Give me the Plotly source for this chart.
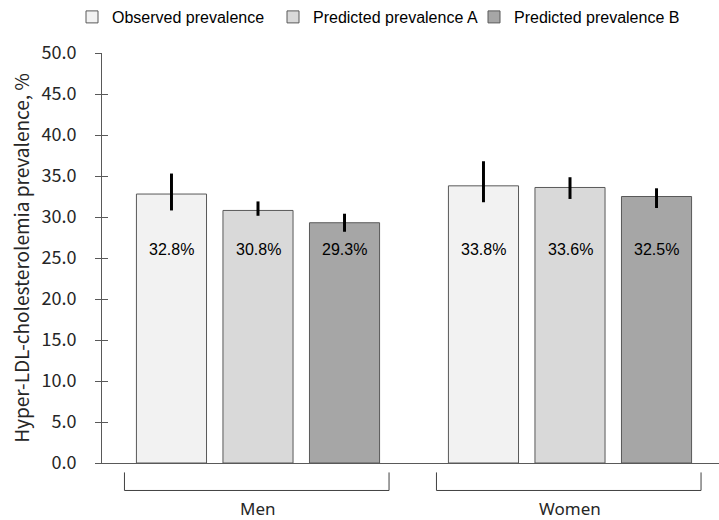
import plotly.graph_objects as go

groups = ["Men", "Women"]
series_names = ["Observed prevalence", "Predicted prevalence A", "Predicted prevalence B"]
observed = [32.8, 33.8]
observed_upper = [35.3, 36.8]
observed_lower = [30.8, 31.8]
pred_a = [30.8, 33.6]
pred_a_upper = [31.9, 34.85]
pred_a_lower = [30.15, 32.2]
pred_b = [29.3, 32.5]
pred_b_upper = [30.4, 33.5]
pred_b_lower = [28.2, 31.1]
y_ticks = [0, 5, 10, 15, 20, 25, 30, 35, 40, 45, 50]

values = [observed, pred_a, pred_b]
uppers = [observed_upper, pred_a_upper, pred_b_upper]
lowers = [observed_lower, pred_a_lower, pred_b_lower]
fills = ["#f2f2f2", "#d9d9d9", "#a6a6a6"]
legend_ids = ["legend", "legend2", "legend3"]
legend_x = [72, 273, 474]  # container px of each legend entry

AXIS_FONT = "Noto Sans CJK KR, Noto Sans, sans-serif"
ARIAL = "Liberation Sans, Arial, sans-serif"
BARGAP = 0.168
BARGROUPGAP = 0.19
W, H = 719, 520

fig = go.Figure()
for name, vals, up, lo, col, lg in zip(series_names, values, uppers, lowers, fills, legend_ids):
    fig.add_trace(go.Bar(
        x=groups, y=vals, name=name, legend=lg,
        marker=dict(color=col, line=dict(color="#595959", width=1)),
        error_y=dict(type="data", symmetric=False,
                     array=[u - v for u, v in zip(up, vals)],
                     arrayminus=[v - l for v, l in zip(vals, lo)],
                     color="#000000", thickness=3, width=0),
    ))

# overlay axis for ticks crossing the y axis line
fig.add_trace(go.Scatter(x=[None], y=[None], yaxis="y2", showlegend=False, hoverinfo="skip"))

slot = (1 - BARGAP) / 3
annotations = []
for k, vals in enumerate(values):
    for gi, v in enumerate(vals):
        annotations.append(dict(
            x=gi + (k - 1) * slot, y=26, xref="x", yref="y",
            text=f"{v:.1f}%", showarrow=False,
            font=dict(family=ARIAL, size=16, color="#000000"),
        ))
for gi, g in enumerate(groups):
    annotations.append(dict(
        x=gi, y=-0.143, xref="x", yref="paper", text=g, showarrow=False,
        font=dict(family="Noto Sans, sans-serif", size=17, color="#262626"),
        yanchor="bottom",
    ))

shapes = []
for gi in range(len(groups)):
    x0, x1 = gi - 0.428, gi + 0.42
    shapes.append(dict(type="path", xref="x", yref="paper",
                       path=f"M {x0} -0.023 L {x0} -0.067 L {x1} -0.067 L {x1} -0.023",
                       line=dict(color="#404040", width=1)))

legends = {}
for lg, lx in zip(legend_ids, legend_x):
    legends[lg] = dict(orientation="h", x=lx / W, xanchor="left", y=1.0, yanchor="top",
                       xref="container", yref="container",
                       font=dict(family=ARIAL, size=16, color="#000000"),
                       itemwidth=30, bgcolor="rgba(0,0,0,0)")

fig.update_layout(
    template="none",
    width=W, height=H,
    margin=dict(l=102, r=0, t=53, b=57, autoexpand=False),
    paper_bgcolor="white", plot_bgcolor="white",
    barmode="group", bargap=BARGAP, bargroupgap=BARGROUPGAP,
    showlegend=True,
    **legends,
    xaxis=dict(range=[-0.5, -0.5 + 617 / 312], showticklabels=False, ticks="",
               showline=True, linecolor="#595959", linewidth=1, showgrid=False,
               zeroline=False, fixedrange=True, automargin=False),
    yaxis=dict(range=[0, 50], tickvals=y_ticks, tickformat=".1f",
               ticks="outside", ticklen=6, tickcolor="#595959", tickwidth=1,
               showline=True, linecolor="#595959", linewidth=1, showgrid=False,
               zeroline=False, ticklabelstandoff=15, automargin=False,
               tickfont=dict(family=AXIS_FONT, size=18, color="#262626"),
               title=dict(text="Hyper-LDL-cholesterolemia prevalence, %", standoff=6,
                          font=dict(family=AXIS_FONT, size=19, color="#262626"))),
    yaxis2=dict(range=[0, 50], tickvals=y_ticks, overlaying="y", side="left",
                anchor="x", ticks="inside", ticklen=6, tickcolor="#595959",
                tickwidth=1, showticklabels=False, showgrid=False, zeroline=False,
                showline=False, automargin=False),
    annotations=annotations,
    shapes=shapes,
)

fig.write_html("out.html", config={"displayModeBar": False},
               post_script="document.body.style.margin='0px';")
